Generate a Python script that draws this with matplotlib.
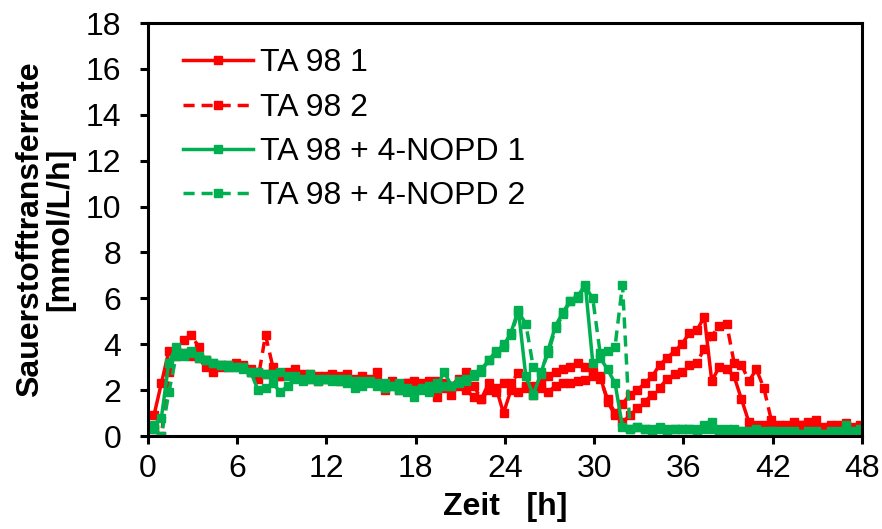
import numpy as np
import matplotlib.pyplot as plt

plt.rcParams['font.family'] = ['Liberation Sans', 'DejaVu Sans']

# Messzeitpunkte alle 0.5 h
zeit = np.arange(96) * 0.5 + 0.4

ta98_1 = [
    0.9, 2.3, 3.7, 3.5, 3.6, 3.5, 3.4, 3.0, 2.8, 3.1, 3.0, 3.1,
    3.0, 2.9, 2.8, 2.7, 2.8, 2.6, 2.8, 2.6, 2.7, 2.5, 2.6, 2.5,
    2.5, 2.6, 2.4, 2.3, 2.6, 2.4, 2.4, 2.2, 2.3, 2.1, 2.3, 2.2,
    2.3, 2.1, 2.4, 2.3, 2.2, 2.5, 2.0, 1.7, 1.6, 2.0, 2.1, 1.0,
    2.0, 1.9, 2.1, 2.2, 2.1, 1.9, 2.2, 2.3, 2.3, 2.4, 2.45, 2.6,
    2.6, 1.5, 0.9, 1.4, 1.8, 2.0, 2.3, 2.6, 3.1, 3.4, 3.7, 4.0,
    4.5, 4.6, 5.2, 2.4, 3.0, 2.9, 2.6, 1.6, 0.6, 0.5, 0.5, 0.4,
    0.4, 0.4, 0.3, 0.5, 0.3, 0.4, 0.3, 0.3, 0.4, 0.2, 0.3, 0.3,
]
ta98_2 = [
    0.3, 0.0, 2.8, 3.7, 4.2, 4.4, 3.9, 3.3, 3.1, 3.0, 3.1, 3.2,
    3.1, 2.8, 2.5, 4.4, 3.0, 2.6, 2.7, 2.9, 2.5, 2.7, 2.4, 2.6,
    2.7, 2.4, 2.7, 2.5, 2.3, 2.5, 2.8, 2.0, 2.4, 2.0, 2.3, 2.4,
    2.2, 2.4, 1.7, 2.1, 1.8, 2.2, 2.8, 2.2, 1.6, 2.3, 1.9, 2.3,
    2.3, 2.75, 2.2, 1.8, 2.3, 2.6, 2.8, 2.9, 3.0, 3.2, 3.0, 2.8,
    2.5, 1.6, 1.0, 0.6, 0.9, 1.2, 1.5, 1.8, 2.1, 2.5, 2.7, 2.8,
    3.1, 3.2, 3.8, 4.35, 4.8, 4.9, 3.2, 3.1, 2.4, 2.9, 2.1, 0.7,
    0.5, 0.5, 0.6, 0.5, 0.6, 0.7, 0.4, 0.5, 0.5, 0.55, 0.4, 0.5,
]
nopd_1 = [
    0.5, 0.8, 3.2, 3.9, 3.6, 3.7, 3.5, 3.3, 3.2, 3.1, 3.0, 3.0,
    2.9, 2.8, 2.0, 2.1, 2.3, 1.9, 2.2, 2.5, 2.4, 2.5, 2.4, 2.5,
    2.4, 2.5, 2.3, 2.4, 2.2, 2.3, 2.3, 2.1, 2.2, 2.0, 2.1, 1.7,
    2.0, 2.2, 2.1, 2.8, 2.2, 2.4, 2.4, 2.7, 2.9, 3.3, 3.7, 3.9,
    4.5, 5.5, 2.6, 1.8, 2.7, 3.75, 4.8, 5.4, 5.9, 6.1, 6.6, 3.2,
    3.4, 2.9, 2.3, 0.4, 0.3, 0.4, 0.3, 0.3, 0.4, 0.3, 0.3, 0.3,
    0.3, 0.3, 0.5, 0.6, 0.3, 0.3, 0.2, 0.2, 0.2, 0.3, 0.2, 0.2,
    0.2, 0.1, 0.2, 0.1, 0.2, 0.1, 0.1, 0.2, 0.1, 0.5, 0.2, 0.3,
]
nopd_2 = [
    0.3, 0.0, 1.9, 3.5, 3.5, 3.6, 3.4, 3.3, 3.2, 3.1, 3.1, 3.0,
    3.0, 2.8, 2.8, 2.7, 2.7, 2.8, 2.6, 2.6, 2.5, 2.7, 2.5, 2.5,
    2.5, 2.4, 2.5, 2.1, 2.4, 2.4, 2.2, 2.3, 2.2, 2.3, 1.9, 2.0,
    2.1, 1.9, 2.3, 2.2, 2.2, 2.3, 2.5, 2.6, 2.8, 3.3, 3.6, 4.0,
    4.4, 5.4, 4.9, 3.0, 2.8, 3.6, 4.7, 5.3, 5.9, 6.0, 6.5, 6.0,
    3.6, 3.7, 3.9, 6.6, 0.3, 0.4, 0.3, 0.2, 0.3, 0.2, 0.3, 0.3,
    0.3, 0.2, 0.3, 0.3, 0.2, 0.2, 0.3, 0.2, 0.1, 0.2, 0.1, 0.2,
    0.1, 0.2, 0.1, 0.1, 0.1, 0.2, 0.1, 0.1, 0.2, 0.1, 0.1, 0.2,
]

rot = '#ff0000'
gruen = '#00b050'
strich = (0, (3.2, 2.0))

serien = [
    (ta98_1, rot, '-', 'TA 98 1'),
    (ta98_2, rot, strich, 'TA 98 2'),
    (nopd_1, gruen, '-', 'TA 98 + 4-NOPD 1'),
    (nopd_2, gruen, strich, 'TA 98 + 4-NOPD 2'),
]

fs = 23

fig = plt.figure(figsize=(8.82, 5.29), dpi=100)
ax = fig.add_axes([0.1678, 0.1758, 0.8095, 0.7807])

for werte, farbe, stil, name in serien:
    ax.plot(zeit, werte, color=farbe, linestyle=stil, linewidth=2.5,
            marker='s', markersize=6, label=name)

ax.set_xlim(0, 48)
ax.set_ylim(0, 18)
ax.set_xticks(np.arange(0, 49, 6))
ax.set_yticks(np.arange(0, 19, 2))
ax.tick_params(direction='out', length=6, width=2.2, labelsize=fs)
ax.tick_params(axis='x', pad=7)
ax.tick_params(axis='y', pad=13)

for s in ax.spines.values():
    s.set_linewidth(2.2)

ax.set_xlabel('Zeit   [h]', fontsize=fs, fontweight='bold', labelpad=6)
ax.set_ylabel('Sauerstofftransferrate\n[mmol/L/h]', fontsize=fs,
              fontweight='bold', labelpad=8, linespacing=1.0)

ax.legend(loc='upper left', frameon=False, fontsize=fs, handlelength=2.2,
          handletextpad=0.2, labelspacing=0.45, borderaxespad=0.2,
          bbox_to_anchor=(0.022, 0.985))

fig.savefig('out.png', dpi=100)
